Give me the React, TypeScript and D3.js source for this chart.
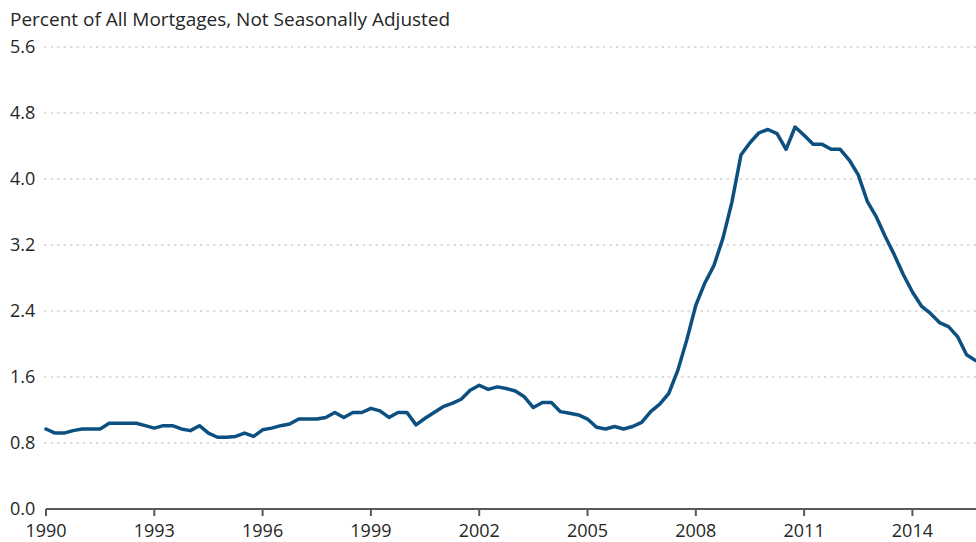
import React from "react";
import * as d3 from "d3";

const startYear = 1990;
// Quarterly values, 1990Q1 .. 2015Q4
const values: number[] = [
  0.97, 0.92, 0.92, 0.95, 0.97, 0.97, 0.97, 1.04,
  1.04, 1.04, 1.04, 1.01, 0.98, 1.01, 1.01, 0.97,
  0.95, 1.01, 0.92, 0.87, 0.87, 0.88, 0.92, 0.88,
  0.96, 0.98, 1.01, 1.03, 1.09, 1.09, 1.09, 1.11,
  1.17, 1.11, 1.17, 1.17, 1.22, 1.19, 1.11, 1.17,
  1.17, 1.02, 1.10, 1.17, 1.24, 1.28, 1.33, 1.44,
  1.50, 1.45, 1.48, 1.46, 1.43, 1.36, 1.23, 1.29,
  1.29, 1.18, 1.16, 1.14, 1.09, 0.99, 0.97, 1.00,
  0.97, 1.00, 1.05, 1.18, 1.27, 1.40, 1.68, 2.05,
  2.47, 2.74, 2.95, 3.28, 3.72, 4.29, 4.44, 4.56,
  4.60, 4.55, 4.36, 4.63, 4.53, 4.42, 4.42, 4.36,
  4.36, 4.23, 4.05, 3.73, 3.54, 3.30, 3.08, 2.84,
  2.63, 2.46, 2.37, 2.26, 2.21, 2.09, 1.87, 1.80,
];
const yTicks: number[] = [0, 0.8, 1.6, 2.4, 3.2, 4.0, 4.8, 5.6];
const xTicks: number[] = [1990, 1993, 1996, 1999, 2002, 2005, 2008, 2011, 2014];
const title = "Percent of All Mortgages, Not Seasonally Adjusted";

const W = 976;
const H = 542;
const FONT = "'Open Sans', 'Noto Sans', sans-serif";
const TEXT = "#262626";

export default function App() {
  const x = d3.scaleLinear().domain([1990, 2015.75]).range([46, 975.6]);
  const y = d3.scaleLinear().domain([0, 5.6]).range([509, 47]);
  const pts = values.map((v, i) => ({ t: startYear + i / 4, v }));
  const line = d3
    .line<{ t: number; v: number }>()
    .x((d) => x(d.t))
    .y((d) => y(d.v))
    .curve(d3.curveLinear);

  return (
    <div style={{ position: "fixed", left: 0, top: 0 }}>
      <svg width={W} height={H} style={{ display: "block" }} fontFamily={FONT}>
        <rect width={W} height={H} fill="#ffffff" />
        <text x={10} y={26} fontSize={19} fill={TEXT}>
          {title}
        </text>
        {yTicks.map((t) => (
          <g key={t}>
            {t > 0 && (
              <line
                x1={44}
                x2={W}
                y1={y(t)}
                y2={y(t)}
                stroke="#bdbdbd"
                strokeWidth={1}
                strokeDasharray="2.5,4"
              />
            )}
            <text x={10} y={y(t)} dy="0.36em" fontSize={18} fill={TEXT}>
              {t.toFixed(1)}
            </text>
          </g>
        ))}
        <line x1={x(1990)} x2={W} y1={y(0)} y2={y(0)} stroke="#595959" strokeWidth={2} />
        {xTicks.map((t) => (
          <g key={t}>
            <line x1={x(t)} x2={x(t)} y1={y(0)} y2={y(0) + 7} stroke="#595959" strokeWidth={2} />
            <text x={x(t)} y={537} textAnchor="middle" fontSize={18} fill={TEXT}>
              {t}
            </text>
          </g>
        ))}
        <path
          d={line(pts) || ""}
          fill="none"
          stroke="#0b5080"
          strokeWidth={3.5}
          strokeLinejoin="round"
          strokeLinecap="round"
        />
      </svg>
    </div>
  );
}
